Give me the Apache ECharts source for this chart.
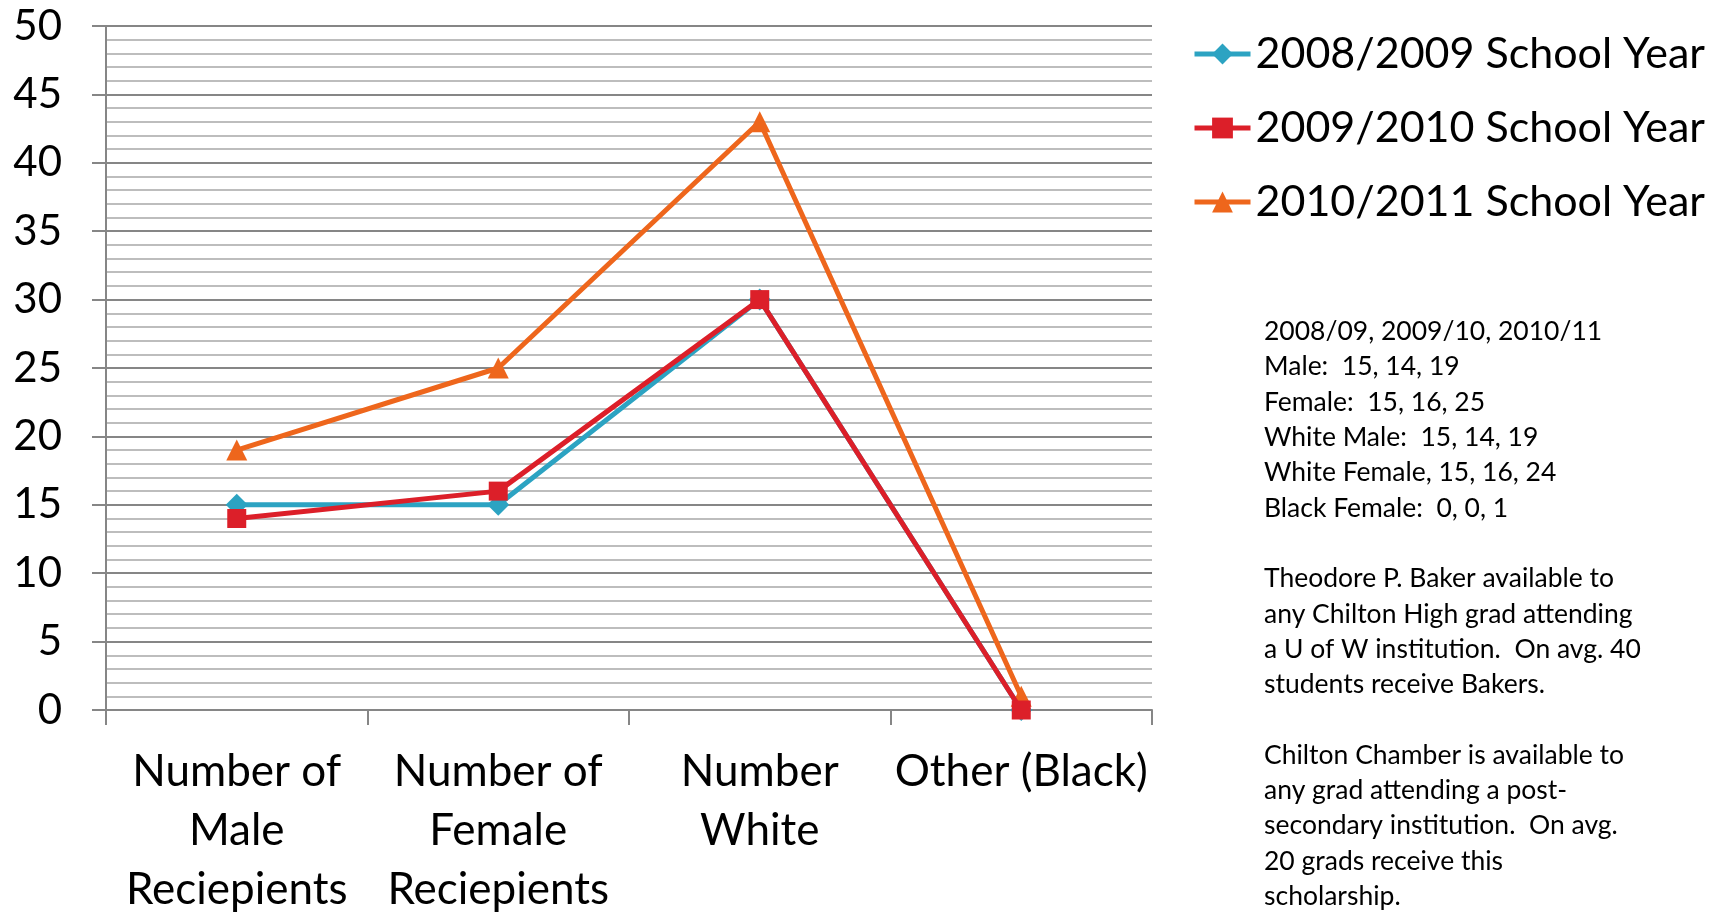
<!DOCTYPE html>
<html>
<head>
<meta charset="utf-8">
<title>Scholarship recipients by school year</title>
<script src="https://cdn.jsdelivr.net/npm/echarts@6/dist/echarts.min.js"></script>
<style>
  html, body { margin: 0; padding: 0; background: #ffffff; }
  #chart { width: 1715px; height: 914px; }
</style>
</head>
<body>
<div id="chart"></div>
<script>
// Categories along the horizontal axis
const categories = [
  'Number of\nMale\nReciepients',
  'Number of\nFemale\nReciepients',
  'Number\nWhite',
  'Other (Black)'
];

// Series names and values per school year
const seriesNames = ['2008/2009 School Year', '2009/2010 School Year', '2010/2011 School Year'];
const year0809 = [15, 15, 30, 0];
const year0910 = [14, 16, 30, 0];
const year1011 = [19, 25, 43, 1];

// Notes printed beside the chart
const noteLines = [
  '2008/09, 2009/10, 2010/11',
  'Male:  15, 14, 19',
  'Female:  15, 16, 25',
  'White Male:  15, 14, 19',
  'White Female, 15, 16, 24',
  'Black Female:  0, 0, 1',
  '',
  'Theodore P. Baker available to',
  'any Chilton High grad attending',
  'a U of W institution.  On avg. 40',
  'students receive Bakers.',
  '',
  'Chilton Chamber is available to',
  'any grad attending a post-',
  'secondary institution.  On avg.',
  '20 grads receive this',
  'scholarship.'
];

const FONT = 'Lato, "Open Sans", sans-serif';
const colors = ['#2ca3c2', '#dc1f29', '#ee661c'];

const chart = echarts.init(document.getElementById('chart'), null, { renderer: 'canvas' });

function lineSeries(name, data, color, symbol, z) {
  return {
    name: name,
    type: 'line',
    data: data,
    z: z,
    symbol: symbol,
    symbolSize: symbol === 'diamond' ? 22 : (symbol === 'triangle' ? 21 : 19),
    showAllSymbol: true,
    animation: false,
    lineStyle: { color: color, width: 5 },
    itemStyle: { color: color, borderWidth: 0 },
    emphasis: { disabled: true }
  };
}

chart.setOption({
  backgroundColor: '#ffffff',
  animation: false,
  grid: {
    left: 106, right: 563, top: 26, bottom: 204,
    containLabel: false,
    outerBoundsMode: 'none'
  },
  legend: {
    orient: 'vertical',
    left: 1192,
    top: 29,
    padding: 0,
    itemWidth: 56,
    itemHeight: 26,
    itemGap: 24,
    textStyle: { fontFamily: FONT, fontSize: 43, lineHeight: 50, color: '#000000' },
    lineStyle: { width: 5 },
    data: seriesNames
  },
  xAxis: {
    type: 'category',
    data: categories,
    boundaryGap: true,
    axisLine: { lineStyle: { color: '#868686', width: 2 } },
    axisTick: { show: true, length: 15, interval: 0, lineStyle: { color: '#868686', width: 2 } },
    axisLabel: {
      interval: 0,
      margin: 32,
      fontFamily: FONT,
      fontSize: 44,
      lineHeight: 59,
      color: '#000000',
      align: 'center'
    },
    splitLine: { show: false }
  },
  yAxis: {
    type: 'value',
    min: 0,
    max: 50,
    interval: 5,
    axisLine: { show: true, lineStyle: { color: '#868686', width: 2 } },
    axisTick: { show: true, length: 14, lineStyle: { color: '#868686', width: 2 } },
    axisLabel: { margin: 44, fontFamily: FONT, fontSize: 42, color: '#000000' },
    splitLine: { show: true, lineStyle: { color: '#868686', width: 2 } },
    minorTick: { show: false, splitNumber: 5 },
    minorSplitLine: { show: true, lineStyle: { color: '#bdbdbd', width: 2 } }
  },
  series: [
    lineSeries(seriesNames[0], year0809, colors[0], 'diamond', 2),
    lineSeries(seriesNames[1], year0910, colors[1], 'rect', 4),
    lineSeries(seriesNames[2], year1011, colors[2], 'triangle', 3)
  ],
  graphic: [{
    type: 'text',
    left: 1264,
    top: 314,
    silent: true,
    style: {
      text: noteLines.join('\n'),
      fontFamily: FONT,
      fontSize: 26.5,
      lineHeight: 35.3,
      fill: '#000000'
    }
  }]
});
</script>
</body>
</html>
